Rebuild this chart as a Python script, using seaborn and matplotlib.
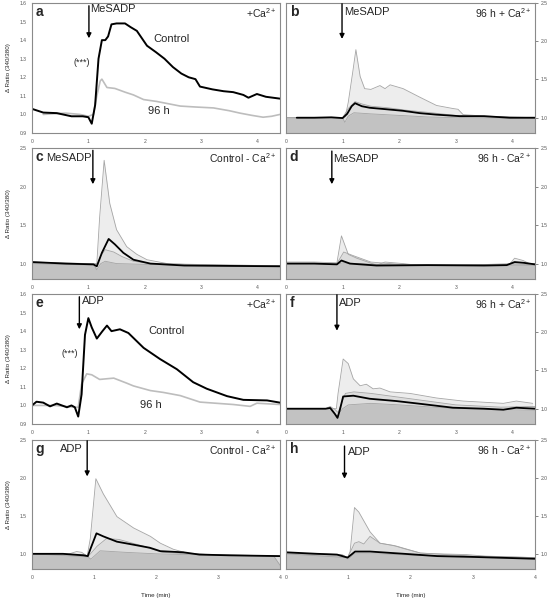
import matplotlib
matplotlib.use("Agg")
import matplotlib.pyplot as plt
import seaborn as sns

# ---- data (time in min, delta ratio 340/380) ----
# a: MeSADP + Ca2+, control vs 96 h
a_ctrl_t = [0, 0.2, 0.44, 0.7, 0.9, 1.0, 1.06, 1.12, 1.18, 1.24, 1.3, 1.35, 1.41, 1.5, 1.65, 1.75, 1.86, 1.95,
            2.04, 2.2, 2.35, 2.5, 2.65, 2.78, 2.9, 2.98, 3.2, 3.4, 3.57, 3.75, 3.84, 3.99, 4.15, 4.4]
a_ctrl = [1.03, 1.01, 1.007, 0.99, 0.99, 0.985, 0.95, 1.05, 1.3, 1.40, 1.40, 1.42, 1.485, 1.49, 1.49, 1.47, 1.45, 1.41,
          1.37, 1.335, 1.30, 1.255, 1.22, 1.20, 1.19, 1.15, 1.135, 1.125, 1.12, 1.105, 1.09, 1.11, 1.095, 1.085]
a_96_t = [0.2, 0.45, 0.6, 0.85, 1.0, 1.09, 1.15, 1.21, 1.24, 1.33, 1.47, 1.65, 1.8, 1.98, 2.21, 2.63, 2.9,
          3.22, 3.5, 3.69, 3.9, 4.1, 4.25, 4.4]
a_96 = [1.0, 1.005, 1.007, 1.0, 0.99, 1.0, 1.1, 1.18, 1.19, 1.145, 1.14, 1.12, 1.105, 1.08, 1.07, 1.045, 1.04,
        1.035, 1.02, 1.007, 0.995, 0.985, 0.99, 1.0]

# b: MeSADP, 96 h + Ca2+
b_up_t = [0, 0.5, 1.0, 1.05, 1.1, 1.18, 1.235, 1.31, 1.39, 1.5, 1.66, 1.75, 1.84, 2.07, 2.36, 2.66, 2.95, 3.04, 3.13,
          3.54, 3.95, 4.4]
b_up = [1.0, 1.0, 1.0, 1.02, 1.2, 1.6, 1.89, 1.54, 1.38, 1.37, 1.42, 1.38, 1.43, 1.38, 1.27, 1.16, 1.12, 1.11, 1.04,
        1.02, 1.01, 1.0]
b_mid_t = [0, 1.0, 1.1, 1.22, 1.34, 1.5, 1.8, 2.1, 2.5, 3.0, 3.5, 4.4]
b_mid = [1.0, 1.0, 1.12, 1.21, 1.18, 1.15, 1.13, 1.1, 1.07, 1.03, 1.01, 1.0]
b_mean_t = [0.19, 0.5, 0.8, 1.0, 1.08, 1.16, 1.22, 1.34, 1.48, 1.78, 2.07, 2.36, 2.66, 3.07, 3.5, 3.95, 4.4]
b_mean = [1.0, 1.0, 1.005, 0.995, 1.05, 1.15, 1.19, 1.15, 1.13, 1.11, 1.09, 1.06, 1.04, 1.02, 1.02, 1.0, 1.0]
b_low_t = [0, 1.0, 1.04, 1.1, 1.2, 1.5, 2.0, 2.5, 3.0, 4.4]
b_low = [1.0, 1.0, 0.94, 1.02, 1.065, 1.05, 1.03, 1.01, 1.0, 0.99]

# c: MeSADP, control - Ca2+
c_up_t = [0, 0.5, 1.0, 1.15, 1.2, 1.28, 1.38, 1.5, 1.68, 1.86, 2.04, 2.4, 3.0, 4.4]
c_up = [1.02, 1.01, 1.0, 1.0, 1.6, 2.34, 1.78, 1.44, 1.22, 1.12, 1.05, 1.0, 0.98, 0.975]
c_mid_t = [0, 1.15, 1.22, 1.3, 1.45, 1.6, 1.8, 2.1, 4.4]
c_mid = [1.0, 0.98, 1.1, 1.18, 1.15, 1.09, 1.03, 1.0, 0.97]
c_mean_t = [0, 0.6, 1.09, 1.15, 1.24, 1.36, 1.47, 1.62, 1.8, 2.1, 2.7, 3.5, 4.4]
c_mean = [1.02, 1.0, 0.99, 0.965, 1.14, 1.32, 1.25, 1.14, 1.05, 1.0, 0.975, 0.97, 0.965]
c_low_t = [0, 1.1, 1.15, 1.22, 1.3, 1.5, 2.0, 3.0, 4.4]
c_low = [1.0, 0.98, 0.92, 1.0, 1.03, 1.0, 0.99, 0.97, 0.96]

# d: MeSADP, 96 h - Ca2+
d_up_t = [0, 0.5, 0.9, 0.98, 1.1, 1.25, 1.6, 1.75, 2.07, 2.3, 3.0, 3.95, 4.04, 4.19, 4.3, 4.4]
d_up = [1.02, 1.02, 1.01, 1.36, 1.12, 1.07, 0.98, 1.02, 1.0, 0.98, 0.98, 0.99, 1.07, 1.04, 1.0, 1.0]
d_mid_t = [0, 0.9, 1.02, 1.2, 1.5, 2.0, 4.4]
d_mid = [1.0, 1.0, 1.15, 1.1, 1.02, 0.99, 0.98]
d_mean_t = [0, 0.5, 0.9, 0.98, 1.13, 1.6, 2.5, 3.5, 3.9, 4.04, 4.2, 4.4]
d_mean = [1.0, 1.0, 0.99, 1.04, 1.0, 0.975, 0.98, 0.975, 0.98, 1.02, 1.01, 0.99]
d_low_t = [0, 0.9, 1.0, 1.2, 2.0, 3.0, 4.0, 4.4]
d_low = [1.0, 0.99, 1.01, 1.0, 0.98, 0.975, 1.0, 0.98]

# e: ADP + Ca2+, control vs 96 h
e_ctrl_t = [0, 0.08, 0.2, 0.32, 0.44, 0.62, 0.7, 0.76, 0.82, 0.88, 0.94, 1.0, 1.06, 1.15, 1.25, 1.33, 1.41, 1.56,
            1.71, 1.98, 2.27, 2.57, 2.86, 3.1, 3.46, 3.75, 4.17, 4.4]
e_ctrl = [1.0, 1.02, 1.015, 0.995, 1.01, 0.99, 1.0, 0.99, 0.94, 1.06, 1.38, 1.47, 1.42, 1.36, 1.40, 1.43, 1.40, 1.41,
          1.39, 1.31, 1.25, 1.195, 1.125, 1.09, 1.05, 1.03, 1.027, 1.015]
e_96_t = [0, 0.4, 0.78, 0.82, 0.88, 0.97, 1.06, 1.2, 1.45, 1.68, 1.8, 2.1, 2.33, 2.63, 2.98, 3.57, 3.87, 3.99, 4.4]
e_96 = [1.0, 1.0, 0.99, 0.99, 1.115, 1.17, 1.165, 1.14, 1.147, 1.12, 1.105, 1.08, 1.07, 1.053, 1.018, 1.005, 0.995,
        1.012, 1.005]

# f: ADP, 96 h + Ca2+
f_up_t = [0, 0.7, 0.78, 0.84, 0.89, 0.92, 1.01, 1.1, 1.19, 1.31, 1.42, 1.54, 1.66, 1.84, 2.19, 2.66, 3.13, 3.84,
          4.07, 4.36]
f_up = [1.0, 1.0, 1.03, 1.0, 1.0, 1.2, 1.65, 1.59, 1.39, 1.30, 1.32, 1.26, 1.27, 1.22, 1.2, 1.14, 1.1, 1.07, 1.1, 1.07]
f_mid_t = [0, 0.85, 0.92, 1.05, 1.2, 1.5, 2.0, 2.5, 3.0, 3.8, 4.4]
f_mid = [1.0, 1.0, 0.95, 1.2, 1.22, 1.2, 1.15, 1.1, 1.05, 1.02, 1.03]
f_mean_t = [0, 0.7, 0.78, 0.86, 0.91, 0.95, 1.01, 1.19, 1.48, 1.95, 2.36, 2.95, 3.5, 3.84, 4.07, 4.4]
f_mean = [1.0, 1.0, 1.01, 0.935, 0.88, 0.98, 1.16, 1.17, 1.13, 1.10, 1.065, 1.013, 1.0, 0.987, 1.013, 1.0]
f_low_t = [0, 0.8, 0.9, 1.0, 1.1, 1.5, 2.0, 3.0, 4.4]
f_low = [1.0, 1.0, 0.9, 1.0, 1.05, 1.07, 1.05, 1.0, 0.98]

# g: ADP, control - Ca2+
g_up_t = [0, 0.6, 0.72, 0.8, 0.89, 0.94, 1.03, 1.15, 1.37, 1.64, 1.91, 2.07, 2.28, 2.5, 3.0, 4.0]
g_up = [1.0, 1.0, 1.03, 1.02, 0.97, 1.2, 1.99, 1.79, 1.49, 1.34, 1.23, 1.14, 1.06, 1.01, 0.98, 0.97]
g_mid_t = [0, 0.9, 1.05, 1.2, 1.4, 1.8, 2.1, 2.5, 4.0]
g_mid = [1.0, 0.96, 1.1, 1.2, 1.19, 1.1, 1.02, 1.0, 0.97]
g_mean_t = [0, 0.5, 0.83, 0.9, 0.95, 1.04, 1.15, 1.37, 1.64, 1.9, 2.07, 2.44, 2.7, 3.2, 4.0]
g_mean = [1.0, 1.0, 0.98, 0.97, 1.08, 1.27, 1.23, 1.16, 1.12, 1.08, 1.035, 1.02, 0.99, 0.98, 0.97]
g_low_t = [0, 0.85, 0.95, 1.1, 1.5, 2.0, 3.0, 3.9, 4.0]
g_low = [1.0, 0.99, 0.93, 1.04, 1.02, 1.0, 0.98, 0.97, 0.85]

# h: ADP, 96 h - Ca2+
h_up_t = [0, 0.5, 0.9, 0.99, 1.03, 1.1, 1.17, 1.35, 1.51, 1.73, 1.89, 2.16, 2.43, 2.9, 3.2, 4.0]
h_up = [1.01, 1.0, 0.99, 0.95, 1.03, 1.61, 1.55, 1.29, 1.14, 1.11, 1.07, 1.01, 1.0, 0.99, 0.97, 0.95]
h_mid_t = [0, 0.99, 1.1, 1.17, 1.25, 1.35, 1.51, 1.78, 2.16, 3.0, 4.0]
h_mid = [1.0, 0.95, 1.14, 1.16, 1.13, 1.23, 1.14, 1.1, 1.01, 0.97, 0.95]
h_mean_t = [0, 0.5, 0.82, 0.99, 1.11, 1.35, 1.9, 2.43, 2.97, 4.0]
h_mean = [1.02, 1.0, 0.99, 0.95, 1.03, 1.03, 1.0, 0.97, 0.96, 0.935]
h_low_t = [0, 0.9, 1.0, 1.1, 1.5, 2.0, 3.0, 4.0]
h_low = [1.0, 0.98, 0.93, 1.0, 1.0, 0.98, 0.96, 0.95]

sns.set_style("white")
plt.rcParams["font.family"] = ["Liberation Sans", "DejaVu Sans"]
plt.rcParams["mathtext.fontset"] = "custom"
plt.rcParams["mathtext.rm"] = "Liberation Sans"
plt.rcParams["mathtext.default"] = "regular"

fig = plt.figure(figsize=(5.48, 6.03), dpi=100)

W, H = 548.0, 603.0
cols = [(32, 280), (286, 535)]
rows = [(3, 133), (148, 279), (294, 424), (440, 569)]


def make_ax(r, c):
    x0, x1 = cols[c]
    y0, y1 = rows[r]
    ax = fig.add_axes([x0 / W, 1 - y1 / H, (x1 - x0) / W, (y1 - y0) / H])
    for s in ax.spines.values():
        s.set_color("#8a8a8a")
        s.set_linewidth(0.8)
    ax.tick_params(labelsize=3.6, colors="#555555", length=2, width=0.5, pad=2)
    if c == 1:
        ax.yaxis.tick_right()
    return ax


def band_panel(ax, up, mid, low, mean, xmax):
    bottom = 0.8
    ax.fill_between(up[0], bottom, up[1], color="#ededed", lw=0)
    ax.fill_between(mid[0], bottom, mid[1], color="#dddddd", lw=0)
    ax.fill_between(low[0], bottom, low[1], color="#c2c2c2", lw=0)
    for t, v in (up, mid, low):
        sns.lineplot(x=t, y=v, ax=ax, color="#a5a5a5", lw=0.6, estimator=None)
    sns.lineplot(x=mean[0], y=mean[1], ax=ax, color="black", lw=1.3, estimator=None)
    ax.set_ylim(0.8, 2.5)
    ax.set_yticks([1.0, 1.5, 2.0, 2.5])
    ax.set_xlim(0, xmax)
    ax.set_xticks([0, 1, 2, 3, 4])


def two_line_panel(ax, ctrl, h96):
    sns.lineplot(x=h96[0], y=h96[1], ax=ax, color="#bdbdbd", lw=1.2, estimator=None)
    sns.lineplot(x=ctrl[0], y=ctrl[1], ax=ax, color="black", lw=1.4, estimator=None)
    ax.set_ylim(0.9, 1.6)
    ax.set_yticks([0.9, 1.0, 1.1, 1.2, 1.3, 1.4, 1.5, 1.6])
    ax.set_xlim(0, 4.4)
    ax.set_xticks([0, 1, 2, 3, 4])


def arrow(ax, x, ytop, ybot):
    ax.annotate("", xy=(x, ybot), xytext=(x, ytop),
                arrowprops=dict(arrowstyle="-|>", color="black", lw=1.0, mutation_scale=7,
                                shrinkA=0, shrinkB=0))


def decorate(ax, letter, corner):
    ax.text(0.015, 0.985, letter, transform=ax.transAxes, fontsize=10, fontweight="bold",
            va="top", ha="left")
    ax.text(0.985, 0.975, corner, transform=ax.transAxes, fontsize=7.5, va="top", ha="right")


fmt1 = lambda v, p: f"{v:.1f}"

# a
ax = make_ax(0, 0)
two_line_panel(ax, (a_ctrl_t, a_ctrl), (a_96_t, a_96))
decorate(ax, "a", "+Ca$^{2+}$")
arrow(ax, 1.01, 1.585, 1.41)
ax.text(1.04, 1.57, "MeSADP", fontsize=8, va="center")
ax.text(2.15, 1.405, "Control", fontsize=8, va="center")
ax.text(2.06, 1.02, "96 h", fontsize=8, va="center")
ax.text(0.73, 1.28, "(***)", fontsize=6.5, va="center")
ax.set_ylabel("Δ Ratio (340/380)", fontsize=4.5, labelpad=6)

# b
ax = make_ax(0, 1)
band_panel(ax, (b_up_t, b_up), (b_mid_t, b_mid), (b_low_t, b_low), (b_mean_t, b_mean), 4.4)
decorate(ax, "b", "96 h + Ca$^{2+}$")
arrow(ax, 0.99, 2.49, 2.03)
ax.text(1.02, 2.38, "MeSADP", fontsize=8, va="center")

# c
ax = make_ax(1, 0)
band_panel(ax, (c_up_t, c_up), (c_mid_t, c_mid), (c_low_t, c_low), (c_mean_t, c_mean), 4.4)
decorate(ax, "c", "Control - Ca$^{2+}$")
arrow(ax, 1.08, 2.47, 2.03)
ax.text(1.06, 2.37, "MeSADP", fontsize=8, va="center", ha="right")
ax.set_ylabel("Δ Ratio (340/380)", fontsize=4.5, labelpad=6)

# d
ax = make_ax(1, 1)
band_panel(ax, (d_up_t, d_up), (d_mid_t, d_mid), (d_low_t, d_low), (d_mean_t, d_mean), 4.4)
decorate(ax, "d", "96 h - Ca$^{2+}$")
arrow(ax, 0.81, 2.46, 2.03)
ax.text(0.84, 2.36, "MeSADP", fontsize=8, va="center")

# e
ax = make_ax(2, 0)
two_line_panel(ax, (e_ctrl_t, e_ctrl), (e_96_t, e_96))
decorate(ax, "e", "+Ca$^{2+}$")
arrow(ax, 0.84, 1.585, 1.41)
ax.text(0.89, 1.56, "ADP", fontsize=8, va="center")
ax.text(2.07, 1.4, "Control", fontsize=8, va="center")
ax.text(1.92, 1.0, "96 h", fontsize=8, va="center")
ax.text(0.53, 1.28, "(***)", fontsize=6.5, va="center")
ax.set_ylabel("Δ Ratio (340/380)", fontsize=4.5, labelpad=6)

# f
ax = make_ax(2, 1)
band_panel(ax, (f_up_t, f_up), (f_mid_t, f_mid), (f_low_t, f_low), (f_mean_t, f_mean), 4.4)
decorate(ax, "f", "96 h + Ca$^{2+}$")
arrow(ax, 0.9, 2.49, 2.02)
ax.text(0.94, 2.38, "ADP", fontsize=8, va="center")

# g
ax = make_ax(3, 0)
band_panel(ax, (g_up_t, g_up), (g_mid_t, g_mid), (g_low_t, g_low), (g_mean_t, g_mean), 4.0)
decorate(ax, "g", "Control - Ca$^{2+}$")
arrow(ax, 0.89, 2.49, 2.02)
ax.text(0.45, 2.38, "ADP", fontsize=8, va="center")
ax.set_ylabel("Δ Ratio (340/380)", fontsize=4.5, labelpad=6)
ax.set_xlabel("Time (min)", fontsize=4.5, labelpad=10)

# h
ax = make_ax(3, 1)
band_panel(ax, (h_up_t, h_up), (h_mid_t, h_mid), (h_low_t, h_low), (h_mean_t, h_mean), 4.0)
decorate(ax, "h", "96 h - Ca$^{2+}$")
arrow(ax, 0.94, 2.42, 1.99)
ax.text(0.99, 2.34, "ADP", fontsize=8, va="center")
ax.set_xlabel("Time (min)", fontsize=4.5, labelpad=10)

for a in fig.axes:
    a.yaxis.set_major_formatter(matplotlib.ticker.FuncFormatter(fmt1))
    a.xaxis.set_major_formatter(matplotlib.ticker.FuncFormatter(lambda v, p: f"{v:.0f}"))

fig.savefig("out.png", dpi=100)
